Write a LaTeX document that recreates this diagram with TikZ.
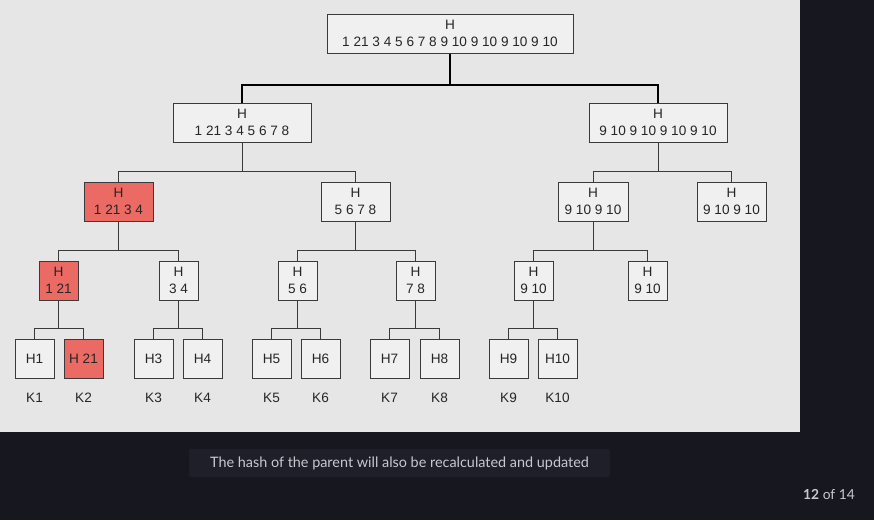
\documentclass[tikz,border=0pt]{standalone}
\usepackage{fontspec}
\setmainfont{Liberation Sans}
\newfontfamily\capfont{Lato}
\usetikzlibrary{calc}
\definecolor{darkbg}{HTML}{17171F}
\definecolor{capbg}{HTML}{1F1F29}
\definecolor{panel}{HTML}{E6E6E6}
\definecolor{boxfill}{HTML}{F0F0F0}
\definecolor{boxline}{HTML}{3A3A3A}
\definecolor{redfill}{HTML}{EB6A63}
\definecolor{captxt}{HTML}{C8C8D0}
\tikzset{
  hbox/.style={draw=boxline, fill=boxfill, line width=1pt, inner sep=0pt, align=center,
    minimum height=39pt, text=black!85, font=\fontsize{13.6}{16.5}\selectfont},
  hot/.style={fill=redfill},
  klabel/.style={inner sep=0pt, text=black!85, font=\fontsize{13.6}{15}\selectfont},
  link/.style={draw=boxline, line width=1pt},
  toplink/.style={draw=black, line width=2pt},
}
\begin{document}
\begin{tikzpicture}[x=1pt,y=-1pt]
\useasboundingbox (0,0) rectangle (874,520);
\fill[darkbg] (0,0) rectangle (874,520);
\fill[panel] (0,0) rectangle (800,432);

% nodes
\node[hbox, minimum width=246pt] (r) at (450,33.5) {H\\1 21 3 4 5 6 7 8 9 10 9 10 9 10 9 10};
\node[hbox, minimum width=138pt] (a) at (242,122.5) {H\\1 21 3 4 5 6 7 8};
\node[hbox, minimum width=138pt] (b) at (658,122.5) {H\\9 10 9 10 9 10 9 10};
\node[hbox, hot, minimum width=69pt] (a1) at (118.5,201.5) {H\\1 21 3 4};
\node[hbox, minimum width=69pt] (a2) at (355.5,201.5) {H\\5 6 7 8};
\node[hbox, minimum width=70pt] (b1) at (593,201.5) {H\\9 10 9 10};
\node[hbox, minimum width=69pt] (b2) at (731.5,201.5) {H\\9 10 9 10};
\node[hbox, hot, minimum width=39pt] (c1) at (58.5,280.5) {H\\1 21};
\node[hbox, minimum width=39pt] (c2) at (178.5,280.5) {H\\3 4};
\node[hbox, minimum width=39pt] (c3) at (297.5,280.5) {H\\5 6};
\node[hbox, minimum width=39pt] (c4) at (415.5,280.5) {H\\7 8};
\node[hbox, minimum width=39pt] (c5) at (533.5,280.5) {H\\9 10};
\node[hbox, minimum width=39pt] (c6) at (647.5,280.5) {H\\9 10};
\foreach \n/\x/\t/\s in {l1/34.5/H1/, l2/83.5/H 21/hot, l3/153.5/H3/, l4/202.5/H4/, l5/271.5/H5/, l6/320.5/H6/, l7/389.5/H7/, l8/439.5/H8/, l9/508.5/H9/, l10/557.5/H10/}{
  \node[hbox, \s, minimum width=39pt] (\n) at (\x,358.5) {\t};
}
\foreach \n/\x/\t in {k1/34.5/K1, k2/83.5/K2, k3/153.5/K3, k4/202.5/K4, k5/271.5/K5, k6/320.5/K6, k7/389.5/K7, k8/439.5/K8, k9/508.5/K9, k10/557.5/K10}{
  \node[klabel] (\n) at (\x,398) {\t};
}

% connectors
\draw[toplink] (r.south) -- ($(r.south |- a.north)+(0,-18)$);
\draw[toplink] (a.north) -- ++(0,-18) -| (b.north);
\foreach \p/\u/\v in {a/a1/a2, b/b1/b2, a1/c1/c2, a2/c3/c4, b1/c5/c6, c1/l1/l2, c2/l3/l4, c3/l5/l6, c4/l7/l8, c5/l9/l10}{
  \draw[link] (\p.south) -- ($(\p.south |- \u.north)+(0,-10)$);
  \draw[link] (\u.north) -- ++(0,-10) -| (\v.north);
}

% caption
\node[fill=capbg, rounded corners=2pt, minimum width=421pt, minimum height=28pt, inner sep=0pt,
  text=captxt, font=\capfont\fontsize{14.4}{16}\selectfont] (cap) at (399.5,463) {The hash of the parent will also be recalculated and updated};
\node[inner sep=0pt, text=captxt, font=\capfont\fontsize{13.8}{16}\selectfont] (cnt) at (829,494) {\textbf{12} of 14};
\end{tikzpicture}
\end{document}
